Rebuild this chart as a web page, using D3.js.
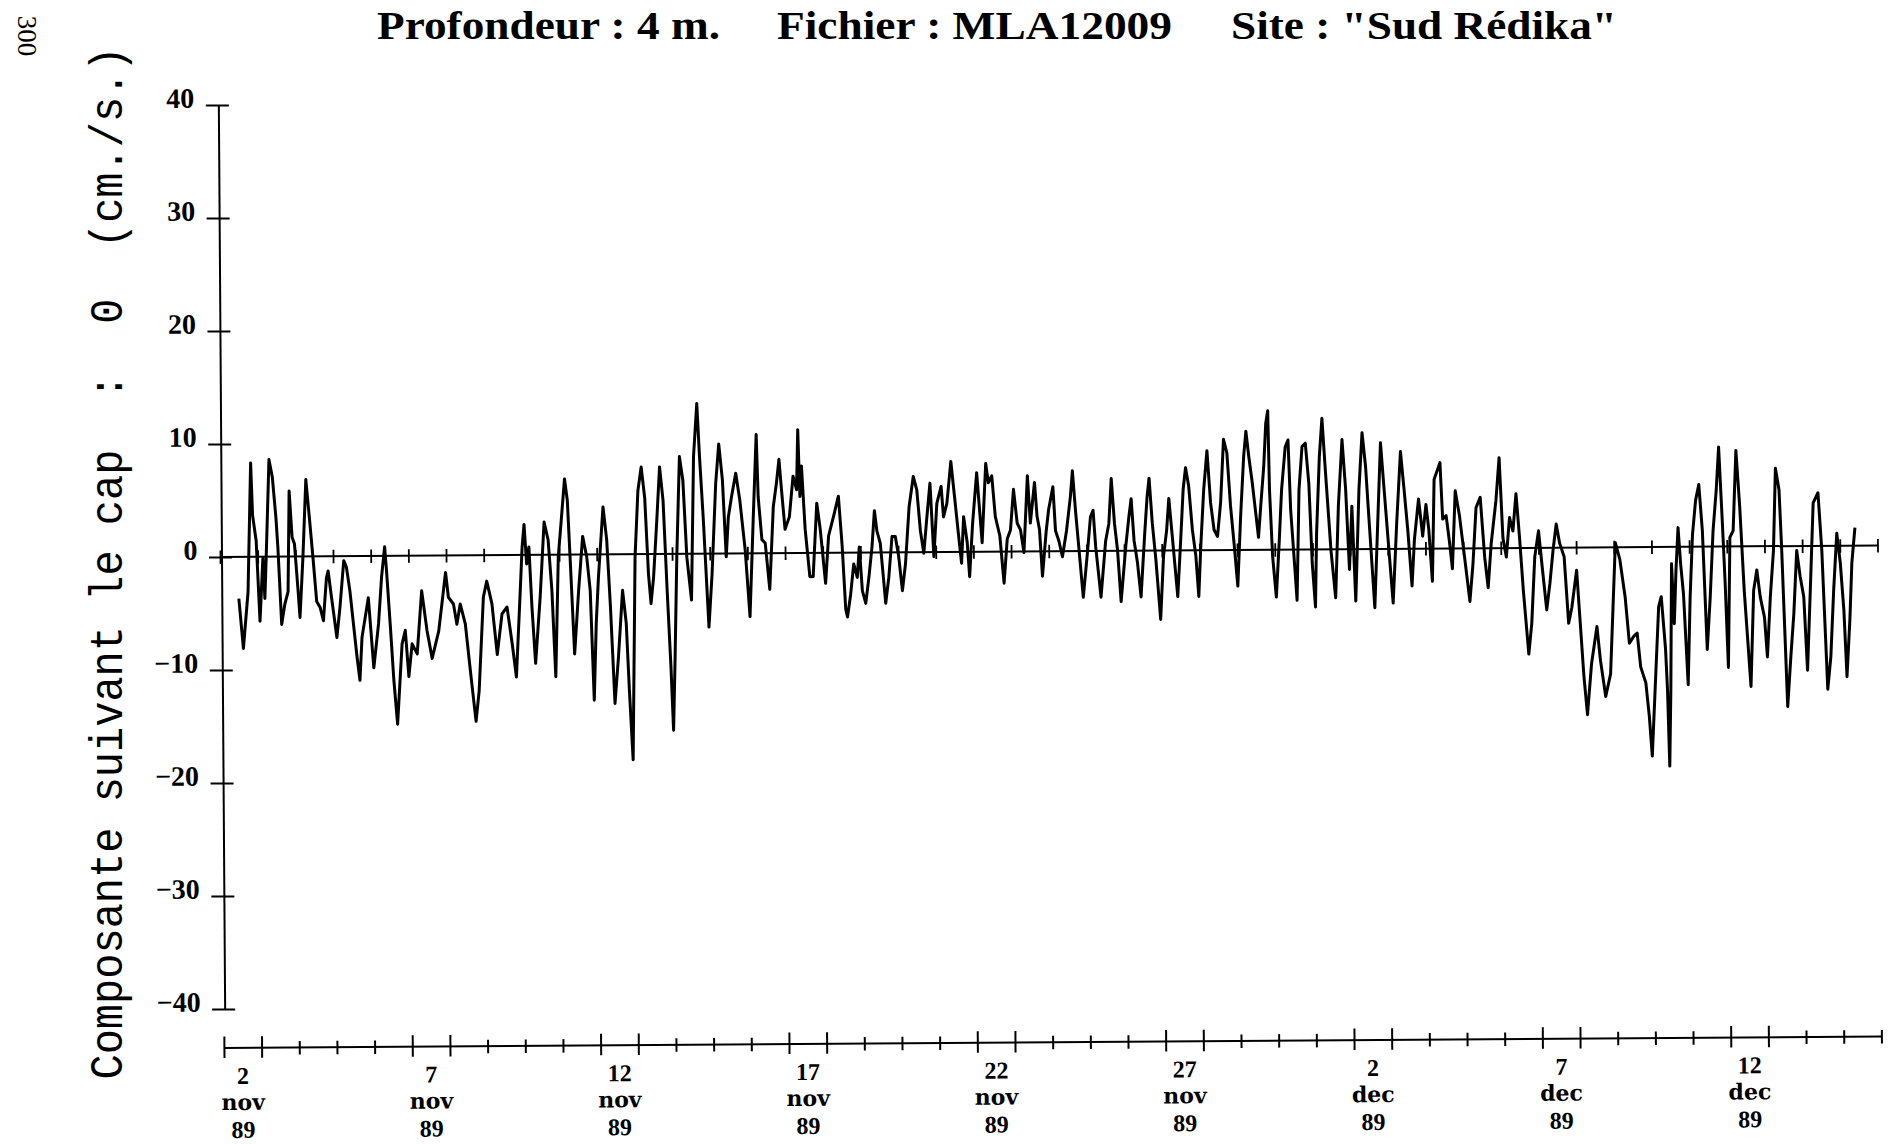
<!DOCTYPE html>
<html><head><meta charset="utf-8">
<script src="https://cdn.jsdelivr.net/npm/d3@7"></script>
<style>html,body{margin:0;padding:0;background:#fff;}svg{display:block;}</style>
</head><body>
<svg id="chart" width="1889" height="1144"></svg>
<script>
// ---------- texts ----------
const titleParts = ["Profondeur : 4 m.", "Fichier : MLA12009", "Site : \"Sud Rédika\""];
const yLabelText = "Composante suivant le cap  :  0  (cm./s.)";
const pageNote = "300";

// ---------- axes ----------
const yTicks = [-40, -30, -20, -10, 0, 10, 20, 30, 40];
const nDays = 44;                       // 2 nov 89 00h -> 16 dec 89 00h
const labelDayIndex = [0, 5, 10, 15, 20, 25, 30, 35, 40];
const dayLabels   = ["2", "7", "12", "17", "22", "27", "2", "7", "12"];
const monthLabels = ["nov", "nov", "nov", "nov", "nov", "nov", "dec", "dec", "dec"];
const yearLabels  = ["89", "89", "89", "89", "89", "89", "89", "89", "89"];

// ---------- series: [hours since 2 nov 00h, cm/s] ----------
const part1 = [[11.5,-3.7],[14.2,-8.1],[17.4,-3.1],[19.6,8.3],[20.6,3.7],[22.8,1.4],[24.9,-5.7],[27.0,-0.1],[28.1,-3.7],[29.1,-0.1],[31.3,8.6],[33.4,7.0],[35.5,3.4],[36.6,0.8],[38.7,-6.0],[40.8,-4.2],[42.9,-3.1],[44.0,5.8],[45.7,1.7],[47.2,1.1],[49.3,-3.1],[50.4,-5.4],[52.5,-0.1],[54.7,6.8],[56.8,3.4],[58.9,-0.1],[61.1,-4.0],[63.2,-4.5],[65.3,-5.7],[67.4,-1.9],[68.5,-1.3],[70.6,-3.7],[73.8,-7.2],[75.9,-4.5],[78.5,-0.4],[80.2,-1.0],[82.3,-3.1],[84.4,-6.0],[86.6,-9.0],[88.3,-11.0],[89.8,-7.2],[94.0,-3.7],[97.2,-9.9],[100.4,-6.0],[102.5,-1.9],[104.6,0.8],[105.7,-1.3],[107.8,-6.0],[109.9,-11.0],[112.1,-14.9],[115.3,-7.8],[117.4,-6.6],[119.5,-10.7],[121.7,-7.8],[124.9,-8.7],[128.0,-3.1],[131.2,-6.6]];
const part2 = [[134.4,-9.1],[138.7,-6.7],[141.8,-3.2],[143.3,-1.5],[145.0,-3.7],[148.2,-4.3],[150.3,-6.1],[152.5,-4.3],[155.7,-6.1],[158.9,-10.5],[162.1,-14.7],[164.2,-12.0],[167.3,-3.7],[169.5,-2.3],[172.7,-4.3],[175.9,-8.8],[179.1,-5.2],[182.3,-4.6],[185.5,-7.9],[188.0,-10.8],[190.8,-3.2],[192.2,0.7],[193.5,2.7],[195.0,-0.8],[196.5,0.7],[198.2,-4.6],[200.3,-9.6],[203.5,-3.7],[206.3,2.9],[208.8,1.3],[211.0,-3.2],[213.1,-10.8],[215.2,-0.2],[217.4,3.3],[219.5,6.7],[221.2,4.8],[222.7,-0.2],[225.2,-8.8],[228.0,-3.2],[230.8,1.6],[233.3,-0.2],[235.4,-3.2],[237.5,-12.9],[239.1,-6.1],[240.7,-2.0],[243.9,4.2],[246.1,1.3],[248.2,-4.6],[250.7,-13.2],[253.1,-9.1],[256.0,-3.2],[258.2,-6.1],[259.9,-12.0],[262.0,-18.2]];
const part3 = [[264.1,-0.3],[266.2,5.6],[268.4,7.7],[270.5,5.0],[272.6,-1.8],[274.1,-4.4],[275.8,-2.1],[278.0,2.7],[280.1,7.7],[282.2,4.7],[284.4,-3.2],[286.5,-10.0],[287.9,-15.6],[289.2,-9.1],[290.7,-0.3],[292.8,8.6],[294.9,6.5],[297.1,-0.3],[299.9,-4.1],[301.8,8.6],[304.1,13.3],[305.6,8.6],[307.7,3.2],[310.9,-6.5],[313.1,-1.8],[315.8,6.2],[317.9,9.7],[320.1,6.5],[322.2,-0.3],[323.7,3.2],[325.8,5.0],[328.6,7.1],[331.1,4.7],[334.3,0.3],[337.1,-5.6],[339.6,3.2],[341.8,10.5],[342.8,5.0],[345.0,1.2],[347.1,0.9],[349.8,-3.2],[352.4,4.1],[354.5,6.2],[356.2,8.3],[357.7,5.6],[359.8,2.1],[362.6,3.2],[365.1,6.8],[367.3,5.6],[368.3,10.9],[369.4,5.0],[370.5,7.7],[372.6,2.1],[375.4,-2.1],[377.5,-2.1],[380.1,4.4],[382.2,2.1],[385.4,-2.7],[387.5,1.5],[390.7,3.2],[393.9,5.0],[396.1,0.6],[398.1,-5.0]];
const part4 = [[399.2,-5.7],[401.3,-3.7],[403.4,-1.0],[405.6,-2.2],[407.0,0.5],[408.8,-3.4],[410.9,-4.5],[413.0,-2.2],[415.1,0.5],[416.8,3.7],[418.3,1.9],[420.4,0.8],[423.6,-4.5],[425.7,-2.2],[427.9,1.4],[430.0,1.4],[432.1,-0.4],[434.3,-3.4],[436.4,-1.0],[438.9,4.0],[441.7,6.7],[443.9,5.5],[446.0,1.9],[448.1,-0.1],[450.2,3.1],[452.3,6.1],[454.5,-0.4],[456.6,4.3],[459.4,5.8],[460.8,3.1],[463.0,4.3],[465.7,8.0],[467.9,4.9],[470.0,1.9],[472.1,-1.0],[473.6,3.1],[475.8,0.8],[477.2,-2.2],[479.3,2.5],[482.1,7.0],[485.3,0.8],[487.9,7.8],[489.5,6.1],[491.7,6.7],[493.8,3.1],[496.6,1.4],[499.1,-2.8],[501.3,1.1],[503.4,1.9],[505.5,5.5],[507.7,2.5],[509.8,1.9],[511.9,-0.1],[514.4,6.7],[516.1,2.5],[518.9,6.1],[520.4,3.1],[521.9,1.9],[523.6,-2.2],[526.1,1.7],[527.8,3.7]];
const part5 = [[530.6,5.7],[532.1,1.8],[534.2,0.9],[536.4,-0.5],[539.1,1.8],[541.7,4.8],[543.1,7.1],[544.9,3.6],[547.0,0.1],[549.5,-4.1],[552.3,-0.2],[554.4,3.0],[556.1,3.6],[557.6,0.4],[560.8,-4.1],[564.0,0.9],[566.1,2.4],[567.8,6.4],[569.7,2.4],[571.5,0.1],[573.6,-4.5],[576.8,0.4],[578.9,3.0],[580.4,4.6],[582.1,0.9],[584.2,-1.1],[586.3,-4.1],[588.9,1.5],[590.6,4.8],[591.9,6.4],[593.8,2.4],[595.9,-0.8],[598.7,-6.1],[600.8,-0.5],[602.9,1.8],[604.4,4.6],[606.5,1.2],[609.7,-4.1],[611.8,0.9],[613.6,5.4],[615.2,7.3],[617.1,5.7],[619.3,1.8],[621.4,-0.5],[623.1,-4.1],[624.6,0.4],[626.7,5.4],[628.9,8.8],[631.0,4.2],[633.1,1.8],[635.3,1.2],[637.4,4.2],[639.5,9.8],[641.6,8.6],[643.7,3.9],[645.9,0.4],[648.0,-3.2],[650.1,3.0],[652.3,8.3],[653.8,10.5],[655.5,8.3],[657.6,6.0]];
const part6 = [[661.4,1.1],[662.9,3.8],[665.0,7.3],[666.5,11.2],[667.8,12.3],[668.6,5.3],[670.3,-0.6],[672.5,-4.2],[674.6,0.8],[676.3,5.3],[678.8,9.1],[680.6,9.7],[682.0,3.5],[684.2,-1.2],[685.7,-4.5],[687.4,5.3],[689.5,9.1],[691.6,9.4],[693.7,5.8],[695.5,-1.2],[697.4,-5.1],[698.4,1.4],[700.5,8.2],[702.3,11.6],[704.4,6.7],[707.5,-0.1],[710.3,-4.3],[712.4,3.8],[715.0,9.7],[717.1,5.3],[719.2,-1.8],[721.0,3.8],[723.1,-4.6],[725.6,5.3],[727.8,10.3],[729.9,7.3],[732.0,2.3],[735.2,-5.2],[737.4,2.3],[739.5,9.4],[741.6,5.3],[744.1,0.5],[746.9,-4.8],[749.5,2.3],[752.2,8.6],[754.3,5.3],[756.5,1.7],[759.0,-3.3],[760.7,0.8],[763.5,4.4],[766.0,1.1],[768.2,3.9],[769.9,1.7],[772.0,-2.9],[773.5,6.1],[777.3,7.6],[778.8,2.6],[781.0,2.9],[783.1,0.5],[784.8,-1.8],[786.9,5.1],[789.5,2.9]];
const part7 = [[792.6,-0.8],[795.8,-4.7],[797.9,-1.4],[800.1,3.6],[802.8,4.5],[805.4,-0.8],[807.5,-3.5],[809.6,0.4],[812.8,4.2],[815.0,8.0],[817.1,0.9],[819.2,-0.8],[821.4,2.7],[823.5,1.5],[825.6,4.8],[827.7,0.9],[829.9,-3.8],[833.1,-9.4],[835.1,-6.7],[837.3,-0.8],[839.8,1.5],[842.0,-1.7],[844.7,-5.5],[846.8,-3.2],[849.0,-0.2],[851.1,2.1],[853.2,0.4],[856.0,-0.8],[858.6,-6.7],[860.7,-5.3],[863.9,-2.0],[866.0,-6.7],[868.1,-11.4],[870.2,-14.8],[873.0,-10.3],[876.6,-7.0],[878.7,-10.0],[881.9,-13.2],[885.1,-11.2],[888.7,0.4],[891.5,-1.1],[894.7,-4.4],[897.2,-8.5],[900.0,-7.9],[902.2,-7.6],[904.3,-10.6],[907.5,-12.0],[909.6,-15.0],[911.3,-18.5],[913.9,-11.2],[916.0,-5.3],[917.7,-4.4],[920.2,-9.0]];
const part8 = [[921.3,-12.7],[922.4,-19.4],[923.4,-12.7],[924.4,-1.5],[925.9,-6.8],[927.2,-2.1],[928.7,1.7],[930.2,-1.5],[931.9,-4.2],[934.5,-12.2],[936.1,-4.5],[937.9,1.1],[940.0,4.1],[942.1,5.5],[944.2,1.4],[946.8,-9.1],[948.9,-4.5],[951.0,1.4],[953.2,5.0],[954.9,8.8],[957.0,2.0],[958.5,-3.3],[960.2,-10.7],[961.7,0.8],[963.8,1.4],[965.9,8.5],[968.1,3.5],[970.6,-3.9],[974.5,-12.4],[976.6,-3.9],[978.7,-2.1],[980.8,-4.5],[983.4,-6.3],[985.1,-9.8],[987.2,-4.5],[989.4,-0.4],[991.0,6.9],[993.2,5.0],[994.6,-0.1],[997.8,-14.2],[1000.0,-9.8],[1002.1,-6.0],[1004.2,-0.4],[1006.3,-2.7],[1008.5,-4.5],[1010.6,-11.0],[1012.7,-3.9],[1014.9,3.8],[1018.0,4.7],[1020.2,-0.4],[1023.4,-12.7],[1025.5,-9.8],[1027.6,-3.9],[1029.8,1.1],[1031.9,-1.5],[1034.0,-5.7],[1035.7,-11.6],[1037.8,-6.5],[1039.3,-1.5],[1041.4,1.6]];

// ---------- drawing ----------
const series = [].concat(part1, part2, part3, part4, part5, part6, part7, part8);
const svg = d3.select("#chart");
svg.append("rect").attr("width", 1889).attr("height", 1144).attr("fill", "#fff");

const x = d3.scaleLinear().domain([0, nDays * 24]).range([220.5, 1878]);
const y = d3.scaleLinear().domain([-40, 40]).range([1009, 105]);

// title (not skewed)
const titleX = [377, 777, 1231], titleW = [343, 395, 386];
svg.append("g").selectAll("text").data(titleParts).join("text")
  .attr("x", (d, i) => titleX[i]).attr("y", 38.5)
  .attr("textLength", (d, i) => titleW[i]).attr("lengthAdjust", "spacingAndGlyphs")
  .attr("font-family", "'Liberation Serif', 'Times New Roman', serif")
  .attr("font-weight", "bold").attr("font-size", 41).attr("fill", "#000")
  .text(d => d);

// page note "300"
svg.append("text").attr("transform", "translate(18,36) rotate(90)")
  .attr("text-anchor", "middle")
  .attr("font-family", "'Liberation Serif', serif").attr("font-size", 27).attr("fill", "#000")
  .text(pageNote);

// y axis title (monospace, glyphs drawn a little taller)
svg.append("text").attr("transform", "translate(122,563) rotate(-90) scale(1,1.12)")
  .attr("text-anchor", "middle").attr("xml:space", "preserve").style("white-space", "pre")
  .attr("font-family", "'Liberation Mono', 'DejaVu Sans Mono', monospace")
  .attr("font-size", 42).attr("fill", "#000")
  .text(yLabelText);

// plot group, slightly skewed like the plotter output
const plot = svg.append("g").attr("transform", "rotate(-0.4,222,557)");

// y axis
const yAxis = d3.axisLeft(y).tickValues(yTicks).tickSize(13).tickPadding(0)
  .tickFormat(d => d < 0 ? "\u2212" + Math.abs(d) : String(d));
const gy = plot.append("g").attr("transform", "translate(222,0)").call(yAxis);
gy.attr("font-family", "'Liberation Serif', serif").attr("font-size", 28).attr("font-weight", "bold");
gy.select(".domain").attr("d", `M0,${y(40)}V${y(-40)}`).attr("stroke", "#000").attr("stroke-width", 2);
gy.selectAll(".tick line").attr("x1", 10).attr("stroke", "#000").attr("stroke-width", 2);
gy.selectAll(".tick text").attr("x", -24.5).attr("dy", null).attr("y", 2).attr("fill", "#000");

// x axis with daily ticks
const dayTicks = d3.range(0, nDays + 1).map(d => d * 24);
const xAxis = d3.axisBottom(x).tickValues(dayTicks).tickSize(0).tickFormat("");
const gx = plot.append("g").attr("transform", "translate(0,1048)").call(xAxis);
gx.select(".domain").attr("d", `M${x(0)},0H${x(nDays * 24)}`).attr("stroke", "#000").attr("stroke-width", 2);
gx.selectAll(".tick line")
  .attr("y1", d => ((d / 24) % 5 <= 1 && d / 24 < nDays) ? -11.5 : -6.5)
  .attr("y2", d => ((d / 24) % 5 <= 1 && d / 24 < nDays) ? 10 : 7)
  .attr("stroke", "#000").attr("stroke-width", 2);

// x labels
const lab = plot.append("g").attr("fill", "#000").attr("text-anchor", "middle");
const lg = lab.selectAll("g").data(labelDayIndex).join("g")
  .attr("transform", d => `translate(${x(d * 24 + 12)},0)`);
lg.append("text").attr("y", 1084)
  .attr("font-family", "'Liberation Serif', serif").attr("font-weight", "bold").attr("font-size", 24)
  .text((d, i) => dayLabels[i]);
lg.append("text").attr("y", 1110)
  .attr("font-family", "'DejaVu Serif', serif").attr("font-weight", "bold").attr("font-size", 22)
  .text((d, i) => monthLabels[i]);
lg.append("text").attr("y", 1138)
  .attr("font-family", "'Liberation Serif', serif").attr("font-weight", "bold").attr("font-size", 24)
  .text((d, i) => yearLabels[i]);

// zero line with daily ticks
plot.append("line").attr("x1", x(0)).attr("x2", x(nDays * 24))
  .attr("y1", y(0)).attr("y2", y(0)).attr("stroke", "#000").attr("stroke-width", 2);
plot.append("g").selectAll("line").data(dayTicks).join("line")
  .attr("x1", d => x(d)).attr("x2", d => x(d))
  .attr("y1", y(0) - 6.5).attr("y2", y(0) + 7)
  .attr("stroke", "#000").attr("stroke-width", 1.8);

// series
plot.append("path").datum(series)
  .attr("d", d3.line().x(d => x(d[0])).y(d => y(d[1])))
  .attr("fill", "none").attr("stroke", "#000").attr("stroke-width", 3)
  .attr("stroke-linejoin", "round");
</script>
</body></html>
